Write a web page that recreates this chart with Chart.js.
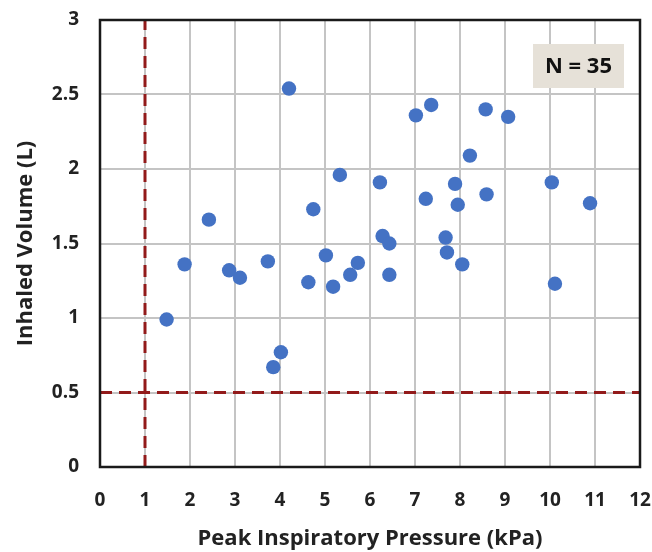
<!DOCTYPE html>
<html>
<head>
<meta charset="utf-8">
<script src="https://cdn.jsdelivr.net/npm/chart.js@4/dist/chart.umd.min.js"></script>
<style>
  html, body { margin: 0; padding: 0; background: #ffffff; }
  #wrap { width: 652px; height: 552px; }
</style>
</head>
<body>
<div id="wrap"><canvas id="c" width="652" height="552"></canvas></div>
<script>
// Peak inspiratory pressure (kPa) for each subject
const pressure = [1.48, 1.88, 2.42, 2.87, 3.11, 3.73, 3.85, 4.02, 4.20, 4.63,
                  4.74, 5.02, 5.18, 5.33, 5.56, 5.73, 6.22, 6.28, 6.43, 6.43,
                  7.02, 7.24, 7.36, 7.68, 7.71, 7.89, 7.95, 8.05, 8.22, 8.57,
                  8.59, 9.07, 10.04, 10.11, 10.89];
// Inhaled volume (L) for each subject
const volume   = [0.99, 1.36, 1.66, 1.32, 1.27, 1.38, 0.67, 0.77, 2.54, 1.24,
                  1.73, 1.42, 1.21, 1.96, 1.29, 1.37, 1.91, 1.55, 1.50, 1.29,
                  2.36, 1.80, 2.43, 1.54, 1.44, 1.90, 1.76, 1.36, 2.09, 2.40,
                  1.83, 2.35, 1.91, 1.23, 1.77];
// Threshold reference lines
const pressureThreshold = 1;   // kPa
const volumeThreshold = 0.5;   // L
// Axis ranges / tick steps
const xMin = 0, xMax = 12, xStep = 1;
const yMin = 0, yMax = 3, yStep = 0.5;
const xTitle = 'Peak Inspiratory Pressure (kPa)';
const yTitle = 'Inhaled Volume (L)';

const points = pressure.map((p, i) => ({ x: p, y: volume[i] }));
const FONT = '"Open Sans", Lato, sans-serif';

const framePlugin = {
  id: 'frame',
  afterDraw(chart) {
    const { ctx, chartArea: { left, top, right, bottom } } = chart;
    ctx.save();
    ctx.strokeStyle = '#1a1a1a';
    ctx.lineWidth = 2.5;
    ctx.strokeRect(left, top, right - left, bottom - top);
    // N annotation box
    const bw = 91, bh = 44;
    const bx = right - 16 - bw, by = top + 24;
    ctx.fillStyle = '#e6e1d8';
    ctx.fillRect(bx, by, bw, bh);
    ctx.fillStyle = '#111111';
    ctx.font = 'bold 22px ' + FONT;
    ctx.textAlign = 'center';
    ctx.textBaseline = 'middle';
    ctx.fillText('N = ' + pressure.length, bx + bw / 2, by + bh / 2 + 1);
    ctx.restore();
  }
};

new Chart(document.getElementById('c'), {
  type: 'scatter',
  data: {
    datasets: [
      {
        label: 'Subjects',
        data: points,
        backgroundColor: '#4472c4',
        borderColor: '#4472c4',
        borderWidth: 0,
        pointRadius: 7.2,
        pointHoverRadius: 7.2,
        order: 1
      },
      {
        label: 'Pressure threshold',
        type: 'line',
        data: [{ x: pressureThreshold, y: yMin }, { x: pressureThreshold, y: yMax }],
        borderColor: '#921a1a',
        borderWidth: 3,
        borderDash: [12, 7],
        pointRadius: 0,
        fill: false,
        order: 2
      },
      {
        label: 'Volume threshold',
        type: 'line',
        data: [{ x: xMin, y: volumeThreshold }, { x: xMax, y: volumeThreshold }],
        borderColor: '#921a1a',
        borderWidth: 3,
        borderDash: [12, 7],
        pointRadius: 0,
        fill: false,
        order: 2
      }
    ]
  },
  options: {
    responsive: false,
    animation: false,
    layout: { padding: { top: 20, right: 12, left: 0, bottom: 0 } },
    plugins: {
      legend: { display: false },
      tooltip: { enabled: false }
    },
    scales: {
      x: {
        type: 'linear',
        min: xMin, max: xMax,
        ticks: {
          stepSize: xStep,
          padding: 0,
          color: '#222222',
          font: { family: FONT, size: 19, weight: 'bold' },
          callback: v => String(v)
        },
        grid: { color: '#c4c4c4', lineWidth: 2, drawTicks: true, tickLength: 22, tickColor: 'rgba(0,0,0,0)' },
        border: { display: false },
        title: {
          display: true,
          text: xTitle,
          color: '#222222',
          font: { family: FONT, size: 22, weight: 'bold' },
          padding: { top: 0, bottom: 0 }
        },
        afterFit(scale) { scale.height = 85; }
      },
      y: {
        type: 'linear',
        min: yMin, max: yMax,
        ticks: {
          stepSize: yStep,
          padding: 0,
          color: '#222222',
          font: { family: FONT, size: 19, weight: 'bold' },
          callback: v => String(v)
        },
        grid: { color: '#c4c4c4', lineWidth: 2, drawTicks: true, tickLength: 21, tickColor: 'rgba(0,0,0,0)' },
        border: { display: false },
        title: {
          display: true,
          text: yTitle,
          color: '#222222',
          font: { family: FONT, size: 22, weight: 'bold' },
          padding: { top: 13, bottom: 0 }
        },
        afterFit(scale) { scale.width = 100; }
      }
    }
  },
  plugins: [framePlugin]
});
</script>
</body>
</html>
